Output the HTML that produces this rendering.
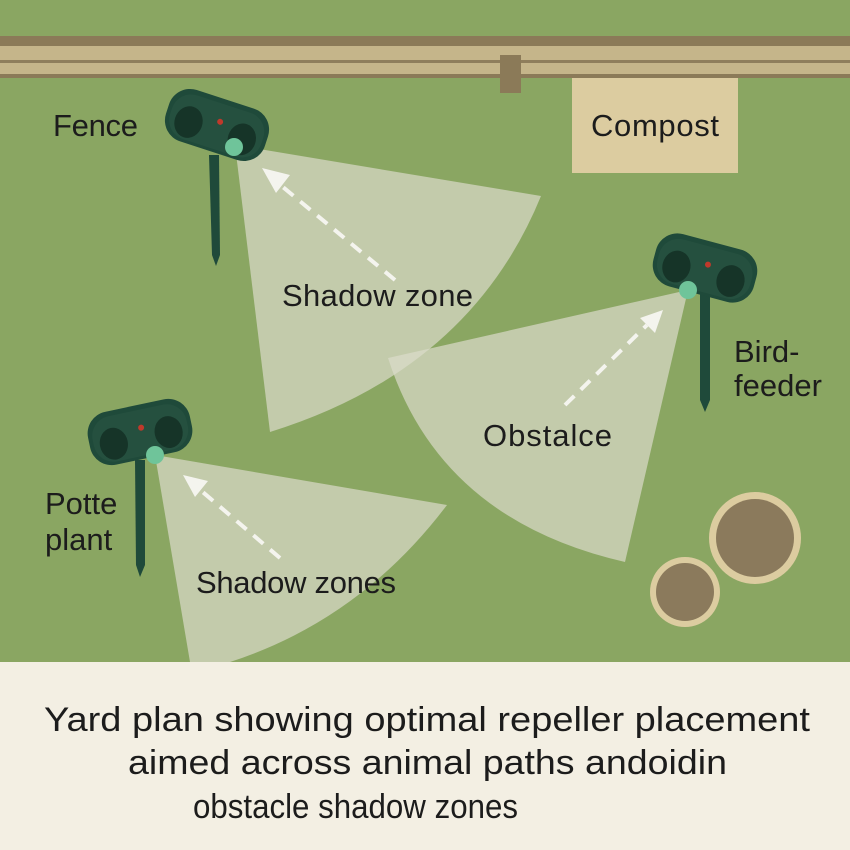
<!DOCTYPE html>
<html><head><meta charset="utf-8"><style>html,body{margin:0;padding:0;width:850px;height:850px;overflow:hidden;background:#f3efe3}</style></head><body>
<svg width="850" height="850" viewBox="0 0 850 850" xmlns="http://www.w3.org/2000/svg" font-family="Liberation Sans, DejaVu Sans, sans-serif">
<defs>
<g id="sensor">
  <rect x="-52" y="-27" width="104" height="54" rx="22" fill="#1f4a3a"/>
  <rect x="-48" y="-22" width="96" height="46" rx="20" fill="#25503f"/>
  <ellipse cx="-28" cy="6" rx="14" ry="16" fill="#163428"/>
  <ellipse cx="28" cy="6" rx="14" ry="16" fill="#163428"/>
  <circle cx="2" cy="-4" r="3" fill="#c0392b"/>
</g>
</defs>
<rect x="0" y="0" width="850" height="662" fill="#8aa662"/>
<rect x="0" y="36" width="850" height="10" fill="#8b7a58"/>
<rect x="0" y="46" width="850" height="30" fill="#c5b58a"/>
<rect x="0" y="60" width="850" height="3" fill="#8f7e5c"/>
<rect x="0" y="74" width="850" height="4" fill="#8b7a58"/>
<rect x="500" y="55" width="21" height="38" fill="#8b7a58"/>
<rect x="572" y="78" width="166" height="95" fill="#dccca0"/>
<path d="M235,145 L541,196 Q470,370 270,432 Z" fill="#dcdccb" opacity="0.7"/>
<path d="M688,290 L388,358 Q440,520 625,562 Z" fill="#dcdccb" opacity="0.7"/>
<path d="M155,455 L447,505 Q360,620 230,662 L190,662 Z" fill="#dcdccb" opacity="0.7"/>
<g stroke="#f4f4ee" stroke-width="4" stroke-dasharray="13,9" fill="none">
<line x1="395" y1="280" x2="278" y2="183"/>
<line x1="565" y1="405" x2="647" y2="325"/>
<line x1="280" y1="558" x2="198" y2="488"/>
</g>
<g fill="#f4f4ee">
<polygon points="262,168 290,175 276,193"/>
<polygon points="663,310 640,318 655,333"/>
<polygon points="183,475 208,481 195,497"/>
</g>
<circle cx="755" cy="538" r="46" fill="#dccca0"/><circle cx="755" cy="538" r="39" fill="#8b7a5c"/>
<circle cx="685" cy="592" r="35" fill="#dccca0"/><circle cx="685" cy="592" r="29" fill="#8b7a5c"/>
<g fill="#1f4a3a">
<polygon points="209,155 219,155 220,255 216,266 212,255"/>
<polygon points="135,460 145,460 145,565 140,577 136,565"/>
<polygon points="700,290 710,290 710,400 705,412 700,400"/>
</g>
<g transform="translate(217,125) rotate(18)"><use href="#sensor"/></g>
<g transform="translate(140,432) rotate(-12)"><use href="#sensor"/></g>
<g transform="translate(705,268) rotate(15)"><use href="#sensor"/></g>
<circle cx="234" cy="147" r="9" fill="#6fc49a"/>
<circle cx="155" cy="455" r="9" fill="#6fc49a"/>
<circle cx="688" cy="290" r="9" fill="#6fc49a"/>
<g fill="#1c1c1c" font-size="31">
<text x="53" y="136" textLength="85">Fence</text>
<text x="591" y="136" textLength="128">Compost</text>
<text x="282" y="306" textLength="191">Shadow zone</text>
<text x="734" y="362">Bird-</text>
<text x="734" y="396">feeder</text>
<text x="483" y="446" textLength="129">Obstalce</text>
<text x="45" y="514">Potte</text>
<text x="45" y="550">plant</text>
<text x="196" y="593" textLength="200">Shadow zones</text>
</g>
<g fill="#1c1c1c" font-size="34">
<text x="44" y="731" textLength="766" lengthAdjust="spacingAndGlyphs">Yard plan showing optimal repeller placement</text>
<text x="128" y="774" textLength="599" lengthAdjust="spacingAndGlyphs">aimed across animal paths andoidin</text>
<text x="193" y="818" textLength="325" lengthAdjust="spacingAndGlyphs">obstacle shadow zones</text>
</g>
</svg>
</body></html>
